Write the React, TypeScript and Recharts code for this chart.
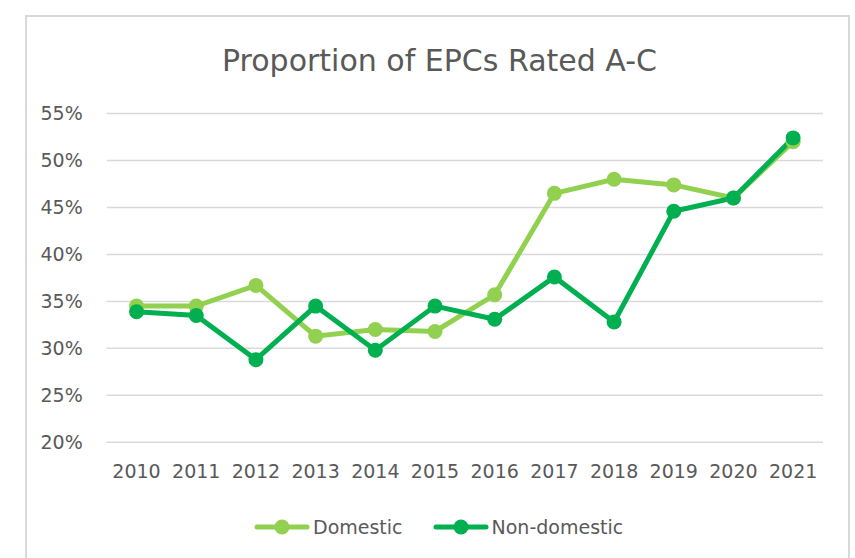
import React from 'react';
import { LineChart, Line, XAxis, YAxis, CartesianGrid, Legend } from 'recharts';

const years = ['2010', '2011', '2012', '2013', '2014', '2015', '2016', '2017', '2018', '2019', '2020', '2021'];
const domestic = [34.5, 34.5, 36.7, 31.3, 32.0, 31.8, 35.7, 46.5, 48.0, 47.4, 46.0, 52.0];
const nonDomestic = [33.9, 33.5, 28.8, 34.5, 29.8, 34.5, 33.1, 37.6, 32.8, 44.6, 46.0, 52.4];
const yTicks = [20, 25, 30, 35, 40, 45, 50, 55];
const title = 'Proportion of EPCs Rated A-C';

const series = [
  { key: 'domestic', name: 'Domestic', color: '#92D050' },
  { key: 'nonDomestic', name: 'Non-domestic', color: '#00B050' },
];

const data = years.map((y, i) => ({ year: y, domestic: domestic[i], nonDomestic: nonDomestic[i] }));

const FONT = "'DejaVu Sans', sans-serif";
const TXT = '#595959';

const LegendContent = () => (
  <div style={{ display: 'flex', alignItems: 'center', paddingLeft: 254, fontFamily: FONT, fontSize: 19, color: TXT }}>
    {series.map((s, i) => (
      <div key={s.key} style={{ display: 'flex', alignItems: 'center', marginLeft: i === 0 ? 0 : 30 }}>
        <svg width={56} height={18}>
          <line x1={3} y1={9} x2={53} y2={9} stroke={s.color} strokeWidth={5} strokeLinecap="round" />
          <circle cx={28} cy={9} r={7.5} fill={s.color} />
        </svg>
        <span style={{ marginLeft: 3 }}>{s.name}</span>
      </div>
    ))}
  </div>
);

export default function App() {
  return (
    <div style={{ position: 'absolute', left: 0, top: 0, width: 855, height: 558, background: '#fff' }}>
      <div style={{ position: 'absolute', left: 25, top: 15, width: 825, height: 560, border: '2px solid #d9d9d9', boxSizing: 'border-box' }} />
      <svg style={{ position: 'absolute', left: 0, top: 0 }} width={855} height={100}>
        <text x={439.5} y={70.7} textAnchor="middle" fontFamily={FONT} fontSize={30} fill={TXT}>{title}</text>
      </svg>
      <div style={{ position: 'absolute', left: 0, top: 0 }}>
        <LineChart width={855} height={558} data={data} margin={{ top: 113.5, right: 32, bottom: 85.7, left: 0 }}>
          <CartesianGrid vertical={false} stroke="#d9d9d9" strokeWidth={1.5} />
          <XAxis
            dataKey="year"
            axisLine={false}
            tickLine={false}
            height={30}
            padding={{ left: 29.85, right: 29.85 }}
            tick={{ fill: TXT, fontSize: 19, fontFamily: FONT }}
            tickMargin={16}
            interval={0}
          />
          <YAxis
            domain={[20, 55]}
            ticks={yTicks}
            width={106.7}
            axisLine={false}
            tickLine={false}
            tickMargin={18}
            tick={{ fill: TXT, fontSize: 19, fontFamily: FONT }}
            tickFormatter={(v: number) => `${v}%`}
            allowDataOverflow
          />
          <Legend verticalAlign="middle" align="center" content={<LegendContent />} wrapperStyle={{ top: 516, left: 0, width: 855 }} />
          {series.map((s) => (
            <Line
              key={s.key}
              type="linear"
              dataKey={s.key}
              name={s.name}
              stroke={s.color}
              strokeWidth={5}
              dot={{ r: 7.5, fill: s.color, stroke: s.color, strokeWidth: 0 }}
              activeDot={false}
              isAnimationActive={false}
            />
          ))}
        </LineChart>
      </div>
    </div>
  );
}
